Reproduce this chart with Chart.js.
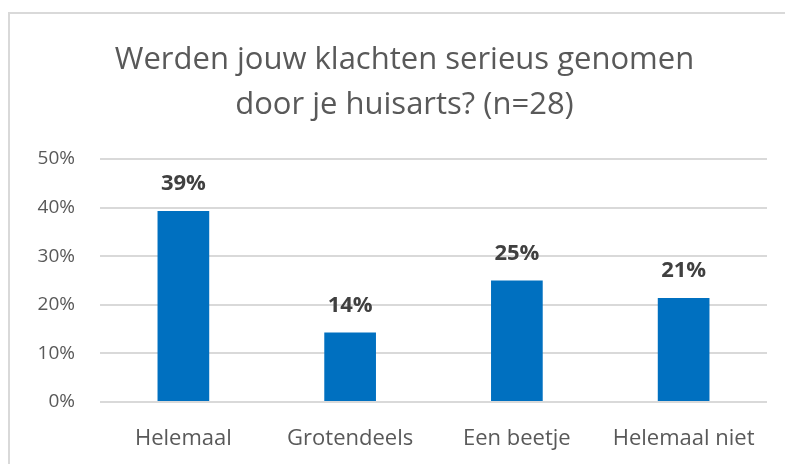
<!DOCTYPE html>
<html>
<head>
<meta charset="utf-8">
<script src="https://cdn.jsdelivr.net/npm/chart.js@4"></script>
<style>
    html, body { margin: 0; padding: 0; background: #fff; overflow: hidden; }
    .frame {
        position: absolute; left: 8px; top: 12px; right: -10px; bottom: -10px;
        border-left: 2px solid #d9d9d9; border-top: 2px solid #d9d9d9;
    }
    #wrap { position: absolute; left: 0; top: 0; width: 785px; height: 464px; }
</style>
</head>
<body>
<div class="frame"></div>
<div id="wrap"><canvas id="chart"></canvas></div>
<script>
/* Data */
const titleLines = ['Werden jouw klachten serieus genomen', 'door je huisarts? (n=28)'];
const categories = ['Helemaal', 'Grotendeels', 'Een beetje', 'Helemaal niet'];
const percentages = [39.3, 14.3, 25.0, 21.4];
const yTicks = [0, 10, 20, 30, 40, 50];

const barColor = '#0070c0';
const textGray = '#595959';

// value labels above each bar
const valueLabels = {
    id: 'valueLabels',
    afterDatasetsDraw(chart) {
        const ctx = chart.ctx;
        const meta = chart.getDatasetMeta(0);
        ctx.save();
        ctx.font = 'bold 22px "Open Sans"';
        ctx.fillStyle = '#404040';
        ctx.textAlign = 'center';
        ctx.textBaseline = 'middle';
        meta.data.forEach((bar, i) => {
            ctx.fillText(Math.round(percentages[i]) + '%', bar.x, bar.y - 27);
        });
        ctx.restore();
    }
};

new Chart(document.getElementById('chart'), {
    type: 'bar',
    data: {
        labels: categories,
        datasets: [{
            data: percentages,
            backgroundColor: barColor,
            categoryPercentage: 1,
            barPercentage: 0.31
        }]
    },
    options: {
        responsive: true,
        maintainAspectRatio: false,
        animation: false,
        layout: { padding: { left: 42, right: 18, top: 0, bottom: 12 } },
        plugins: {
            legend: { display: false },
            tooltip: { enabled: false },
            title: {
                display: true,
                text: titleLines,
                color: textGray,
                font: { family: 'Open Sans', size: 31, weight: 'normal', lineHeight: 1.45 },
                padding: { top: 38, bottom: 31 }
            }
        },
        scales: {
            x: {
                grid: { display: false },
                border: { display: false },
                ticks: { color: textGray, font: { family: 'Open Sans', size: 22 }, padding: 16 },
                afterFit: (scale) => { scale.height = 50; }
            },
            y: {
                min: 0,
                max: 50,
                afterBuildTicks: (scale) => { scale.ticks = yTicks.map(v => ({ value: v })); },
                grid: { color: '#d9d9d9', lineWidth: 2, drawTicks: false },
                border: { display: false },
                ticks: {
                    color: textGray,
                    font: { family: 'Open Sans', size: 19 },
                    padding: 25,
                    callback: (v) => v + '%'
                },
                afterFit: (scale) => {
                    scale.width = 58;
                    scale._computeLabelArea = () => undefined; // let labels run past the axis box
                }
            }
        }
    },
    plugins: [valueLabels]
});
</script>
</body>
</html>
